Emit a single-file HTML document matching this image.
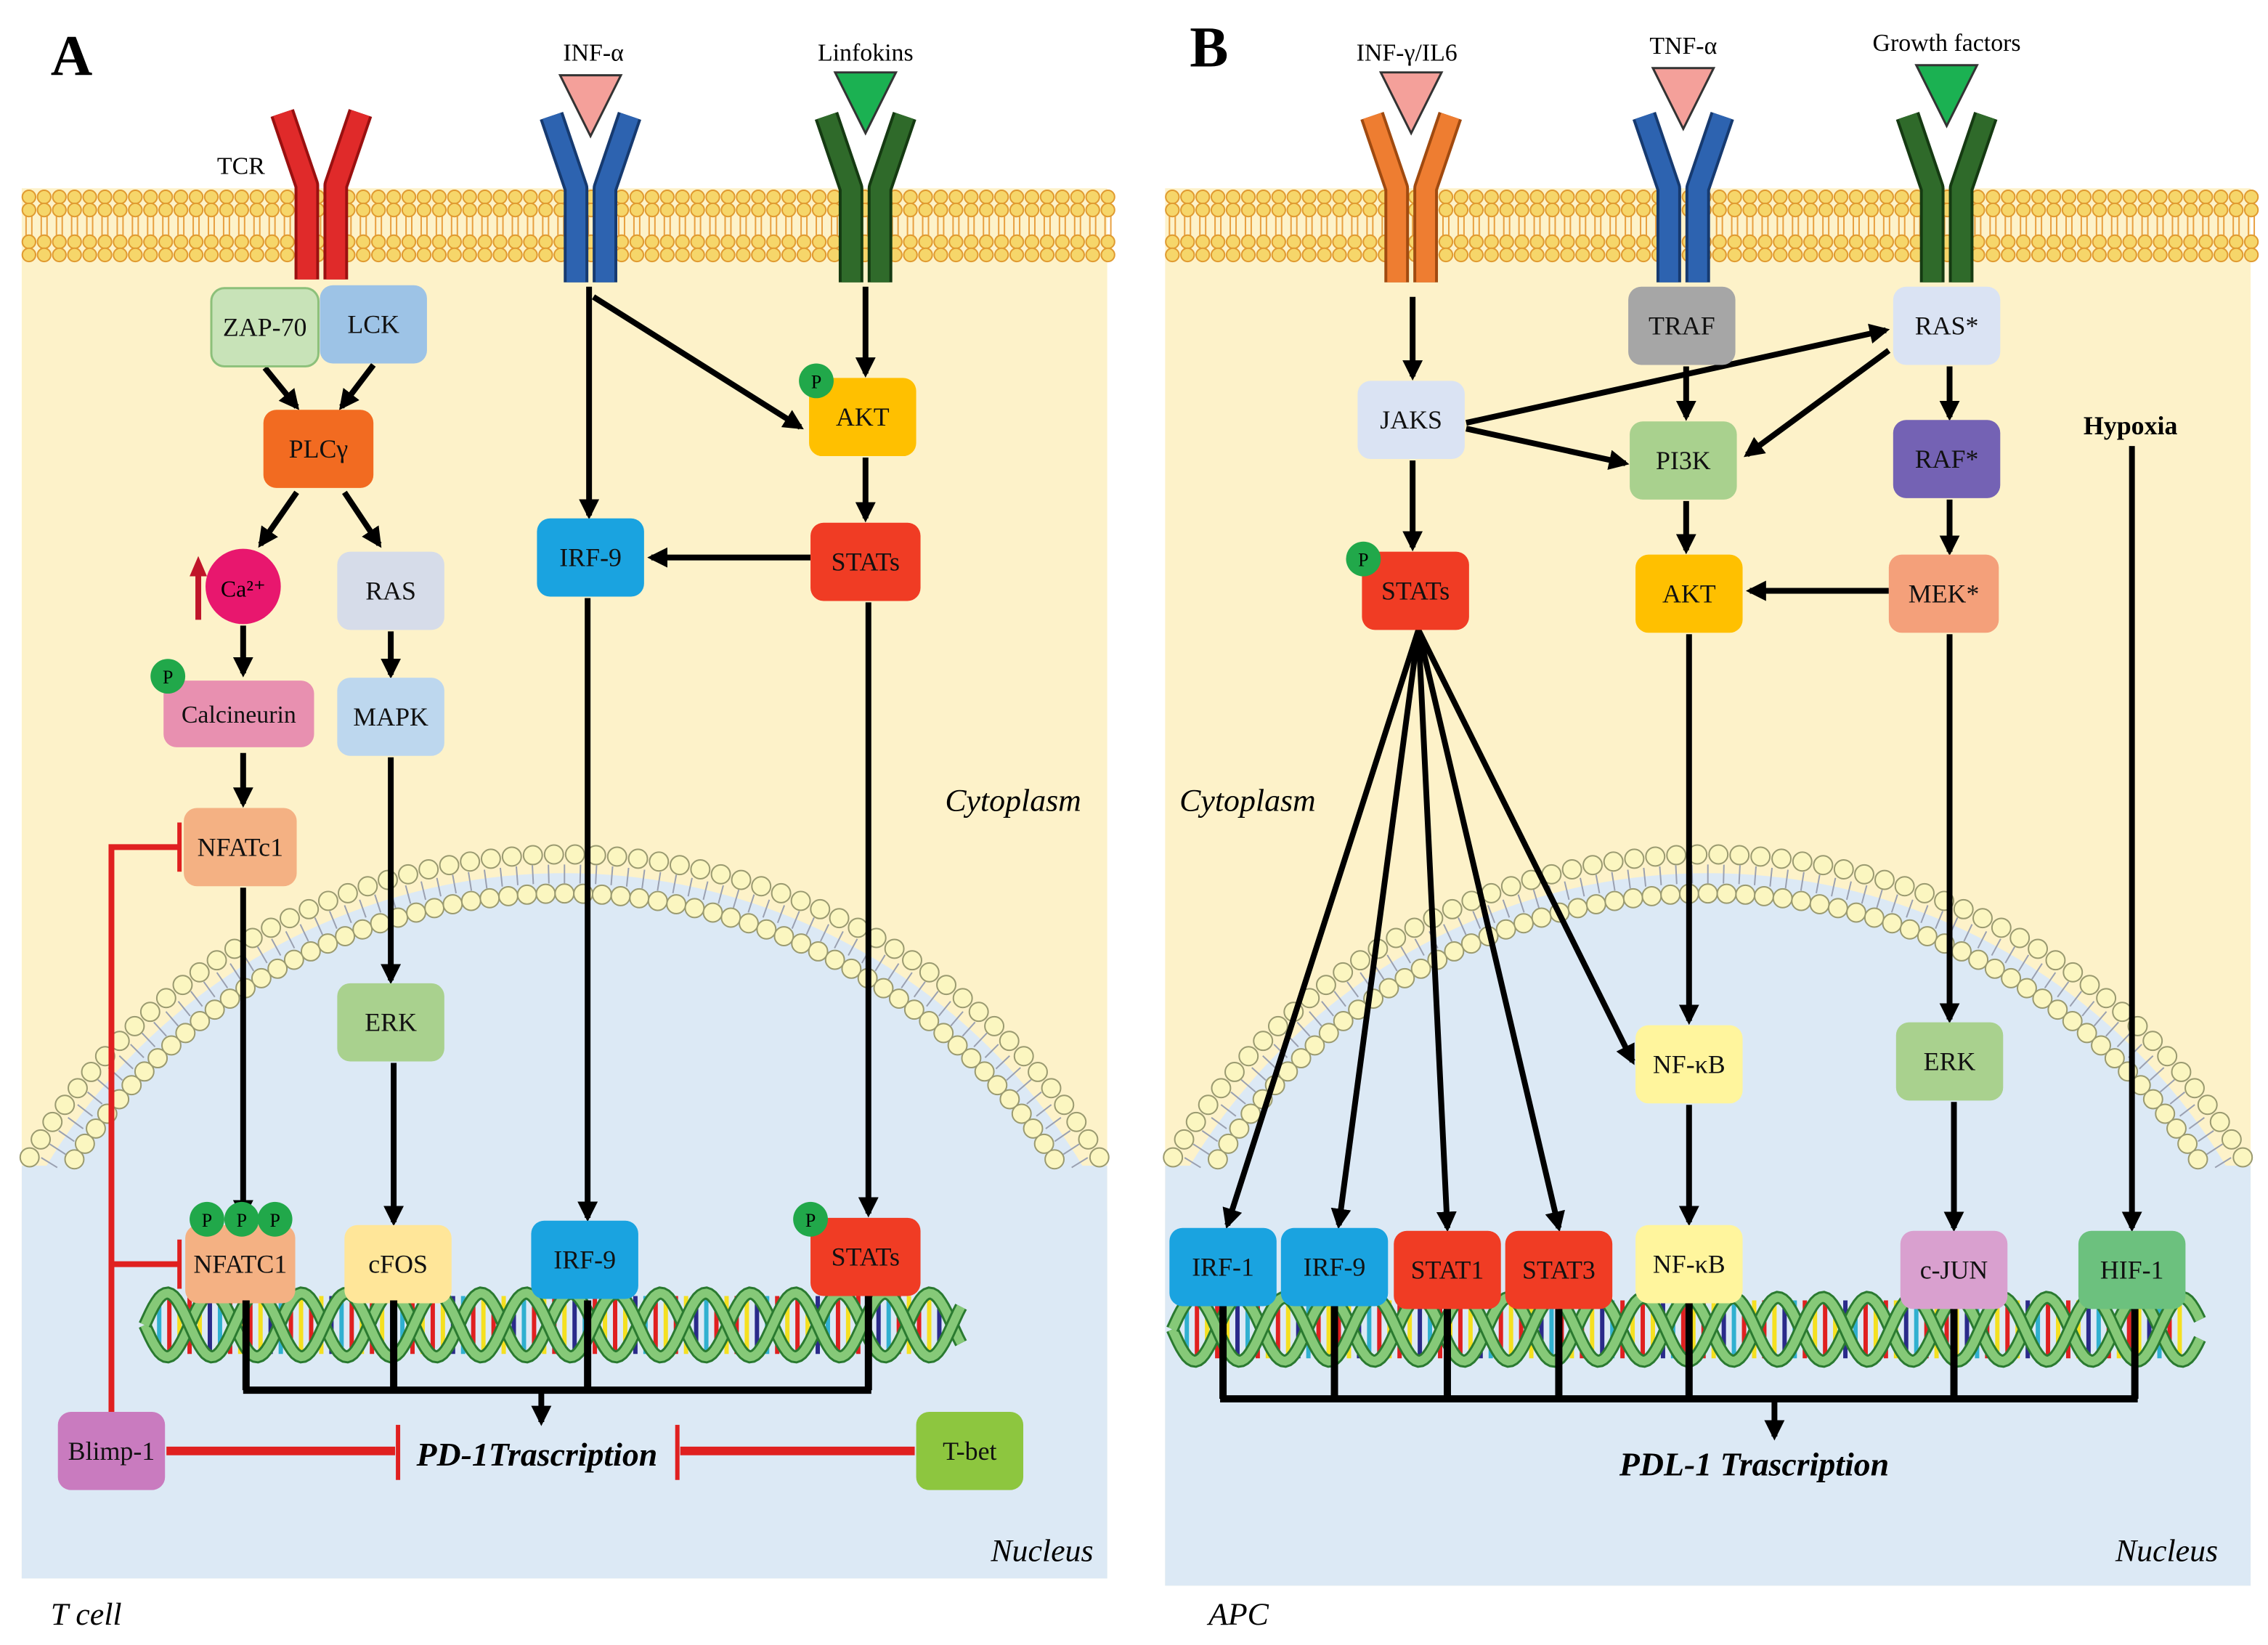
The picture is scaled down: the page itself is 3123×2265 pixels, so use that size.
<!DOCTYPE html>
<html><head><meta charset="utf-8"><style>
html,body{margin:0;padding:0;background:#fff;width:3123px;height:2265px;overflow:hidden;}
svg{display:block;position:absolute;left:0;top:0;}
text{font-family:"Liberation Serif",serif;}
</style></head><body>
<svg id="s" xmlns="http://www.w3.org/2000/svg" width="3123" height="2265" viewBox="0 0 1567 1136" preserveAspectRatio="none">
<defs>
<marker id="ar2" viewBox="0 0 10 10" markerWidth="14" markerHeight="14" refX="8" refY="5" orient="auto" markerUnits="userSpaceOnUse"><path d="M0,0 L10,5 L0,10 Z" fill="#000"/></marker>
<clipPath id="cA"><rect x="15" y="130" width="750" height="960"/></clipPath>
<clipPath id="cB"><rect x="805" y="130" width="750" height="965"/></clipPath>
</defs>
<rect width="1567" height="1136" fill="#fff"/>
<rect x="15" y="130" width="750" height="960" fill="#fdf2c9"/>
<rect x="805" y="130" width="750" height="965" fill="#fdf2c9"/>
<g clip-path="url(#cA)"><circle cx="390" cy="1021" r="418" fill="#dce9f5"/><rect x="15" y="805" width="750" height="290" fill="#dce9f5"/></g>
<g clip-path="url(#cB)"><circle cx="1180" cy="1021" r="418" fill="#dce9f5"/><rect x="805" y="805" width="750" height="290" fill="#dce9f5"/></g>
<g id="mem"></g>
<g id="dna"></g>
<g id="rec"></g>
<g id="lines" stroke="#000" stroke-width="4" fill="none" marker-end="url(#ar2)">
<line x1="183" y1="254" x2="205" y2="281"/>
<line x1="258" y1="252" x2="236" y2="281"/>
<line x1="205" y1="340" x2="180" y2="376"/>
<line x1="238" y1="340" x2="262" y2="376"/>
<line x1="168" y1="432" x2="168" y2="465"/>
<line x1="270" y1="436" x2="270" y2="466"/>
<line x1="168" y1="520" x2="168" y2="555"/>
<line x1="270" y1="523" x2="270" y2="677"/>
<line x1="168" y1="613" x2="168" y2="840"/>
<line x1="272" y1="734" x2="272" y2="844"/>
<line x1="407" y1="198" x2="407" y2="356"/>
<line x1="410" y1="205" x2="553" y2="295"/>
<line x1="598" y1="198" x2="598" y2="258"/>
<line x1="598" y1="316" x2="598" y2="358"/>
<line x1="560" y1="385" x2="450" y2="385"/>
<line x1="406" y1="413" x2="406" y2="841"/>
<line x1="600" y1="416" x2="600" y2="838"/>
<line x1="976" y1="205" x2="976" y2="260"/>
<line x1="976" y1="318" x2="976" y2="378"/>
<line x1="1013" y1="292" x2="1303" y2="228"/>
<line x1="1013" y1="296" x2="1123" y2="320"/>
<line x1="1305" y1="242" x2="1207" y2="314"/>
<line x1="1165" y1="253" x2="1165" y2="288"/>
<line x1="1347" y1="253" x2="1347" y2="288"/>
<line x1="1347" y1="345" x2="1347" y2="381"/>
<line x1="1305" y1="408" x2="1209" y2="408"/>
<line x1="1165" y1="346" x2="1165" y2="380"/>
<line x1="1167" y1="438" x2="1167" y2="705"/>
<line x1="1347" y1="438" x2="1347" y2="704"/>
<line x1="1167" y1="763" x2="1167" y2="844"/>
<line x1="1350" y1="761" x2="1350" y2="848"/>
<line x1="980" y1="435" x2="848" y2="846"/>
<line x1="980" y1="435" x2="925" y2="846"/>
<line x1="980" y1="435" x2="1000" y2="848"/>
<line x1="980" y1="435" x2="1077" y2="848"/>
<line x1="980" y1="435" x2="1128" y2="733"/>
<line x1="1473" y1="308" x2="1473" y2="848"/>
</g>
<g id="nodes"></g>
<g stroke="#000" stroke-width="5" fill="none">
<path d="M170,898 V960 M272,898 V960 M406,898 V960 M600,895 V960 M168,960 H602"/>
<path d="M845,902 V966 M922,902 V966 M1000,904 V966 M1077,904 V966 M1167,900 V966 M1350,904 V966 M1475,904 V966 M843,966 H1477"/>
</g>
<g stroke="#000" stroke-width="4" marker-end="url(#ar2)">
<line x1="374" y1="960" x2="374" y2="982"/>
<line x1="1226" y1="966" x2="1226" y2="992"/>
</g>
<g stroke="#e02020" stroke-width="4" fill="none">
<path d="M77,975 V585 H124 M77,873 H124"/>
<path d="M124,568 V602 M124,856 V890" stroke-width="3"/>
<path d="M115,1002 H273 M632,1002 H470" stroke-width="6"/>
<path d="M275,984 V1022 M468,984 V1022" stroke-width="3"/>
</g>
<path d="M137,428 V396" stroke="#c0152a" stroke-width="4"/>
<path d="M131,398 L137,384 L143,398 Z" fill="#c0152a"/>
<g font-family="Liberation Serif, serif">
<text x="35" y="52" font-size="40" font-weight="bold">A</text>
<text x="822" y="46" font-size="40" font-weight="bold">B</text>
<text x="150" y="120" font-size="17">TCR</text>
<text x="410" y="42" font-size="17" text-anchor="middle">INF-α</text>
<text x="598" y="42" font-size="17" text-anchor="middle">Linfokins</text>
<text x="972" y="42" font-size="17" text-anchor="middle">INF-γ/IL6</text>
<text x="1163" y="37" font-size="17" text-anchor="middle">TNF-α</text>
<text x="1345" y="35" font-size="17" text-anchor="middle">Growth factors</text>
<text x="1472" y="300" font-size="18" font-weight="bold" text-anchor="middle">Hypoxia</text>
<text x="700" y="560" font-size="22" font-style="italic" text-anchor="middle">Cytoplasm</text>
<text x="862" y="560" font-size="22" font-style="italic" text-anchor="middle">Cytoplasm</text>
<text x="720" y="1078" font-size="22" font-style="italic" text-anchor="middle">Nucleus</text>
<text x="1497" y="1078" font-size="22" font-style="italic" text-anchor="middle">Nucleus</text>
<text x="35" y="1122" font-size="22" font-style="italic">T cell</text>
<text x="835" y="1122" font-size="22" font-style="italic">APC</text>
<text x="371" y="1012" font-size="23" font-style="italic" font-weight="bold" text-anchor="middle">PD-1Trascription</text>
<text x="1212" y="1019" font-size="23" font-style="italic" font-weight="bold" text-anchor="middle">PDL-1 Trascription</text>
</g>
</svg>
<script>
var NS="http://www.w3.org/2000/svg",S=document.getElementById('s');
function el(p,t,a,txt){var e=document.createElementNS(NS,t);for(var k in a)e.setAttribute(k,a[k]);if(txt!=null)e.textContent=txt;p.appendChild(e);return e;}
var mem=document.getElementById('mem');
[[15,770],[805,1557]].forEach(function(r){
 for(var x=r[0]+5;x<r[1];x+=10.5){
  el(mem,'path',{d:'M'+(x-2)+',141 V158 M'+(x+2)+',141 V158 M'+(x-2)+',154 V170 M'+(x+2)+',154 V170',stroke:'#e8a040','stroke-width':1,fill:'none'});
 }
 for(var x=r[0]+5;x<r[1];x+=10.5){
  [136,145,167,176].forEach(function(y){el(mem,'circle',{cx:x,cy:y,r:4.6,fill:'#f6d66a',stroke:'#e09a30','stroke-width':1});});
 }
});
[[390,15,765],[1180,805,1555]].forEach(function(c){
 var cx=c[0],cy=1021;
 [[431,8],[404,7]].forEach(function(rr,i){
  var R=rr[0],n=Math.round(Math.PI*R/ (i?13:14.5));
  for(var k=0;k<=n*2;k++){
   var a=Math.PI+k*Math.PI/n;var x=cx+R*Math.cos(a),y=cy+R*Math.sin(a);
   if(y>805||x<c[1]+4||x>c[2]-4)continue;
   el(mem,'circle',{cx:x,cy:y,r:6.5,fill:'#fbf6c0',stroke:'#9a9a70','stroke-width':1});
  }
 });
 for(var k=0;k<=120;k++){var a=Math.PI+k*Math.PI/120;var x1=cx+424*Math.cos(a),y1=cy+424*Math.sin(a),x2=cx+411*Math.cos(a),y2=cy+411*Math.sin(a);
  if(y1>805||x1<c[1]+4||x1>c[2]-4)continue;el(mem,'line',{x1:x1,y1:y1,x2:x2,y2:y2,stroke:'#9aa0b0','stroke-width':1});}
});
var dna=document.getElementById('dna');
function helix(x0,x1,yc){
 var cols=['#e02020','#f5e020','#2a2a8a','#30b0d0','#e02020','#f5e020'];
 for(var x=x0+10;x<x1-10;x+=7){el(dna,'line',{x1:x,y1:yc-20,x2:x,y2:yc+20,stroke:cols[Math.floor(x/7)%6],'stroke-width':3});}
 var P=62;
 [0,P/2].forEach(function(ph,j){
  var d='';for(var x=x0;x<=x1;x+=2){var y=yc+22*Math.sin((x-x0+ph)/P*2*Math.PI);d+=(x==x0?'M':'L')+x+','+y.toFixed(1);}
  el(dna,'path',{d:d,stroke:'#2a7a30','stroke-width':9,fill:'none'});
  el(dna,'path',{d:d,stroke:'#86c978','stroke-width':6,fill:'none'});
 });
}
helix(100,665,915);helix(810,1520,918);
var rec=document.getElementById('rec');
function receptor(x,fill,dark,top){
 [-1,1].forEach(function(s){
  var d='M'+(x+s*27)+','+(top)+' L'+(x+s*10)+','+(top+50)+' L'+(x+s*10)+','+(top+115);
  el(rec,'path',{d:d,stroke:dark,'stroke-width':17,fill:'none','stroke-linejoin':'round'});
  el(rec,'path',{d:d,stroke:fill,'stroke-width':13,fill:'none','stroke-linejoin':'round'});
 });
}
function tri(x,y,fill){el(rec,'path',{d:'M'+(x-21)+','+y+' L'+(x+21)+','+y+' L'+x+','+(y+42)+' Z',fill:fill,stroke:'#333','stroke-width':1.5});}
receptor(222,'#e02a2a','#9a1010',78);
receptor(408,'#2d63b0','#163a70',80);tri(408,52,'#f4a09a');
receptor(598,'#2f6a2a','#153a12',80);tri(598,50,'#1bb152');
receptor(975,'#ee7d31','#a04a10',80);tri(975,50,'#f4a09a');
receptor(1163,'#2d63b0','#163a70',80);tri(1163,47,'#f4a09a');
receptor(1345,'#2f6a2a','#153a12',80);tri(1345,45,'#1bb152');
var nodes=document.getElementById('nodes');
function node(cx,cy,w,h,fill,label,fs,stroke){
 el(nodes,'rect',{x:cx-w/2,y:cy-h/2,width:w,height:h,rx:9,fill:fill,stroke:stroke||'none','stroke-width':1.5});
 el(nodes,'text',{x:cx,y:cy+6,'font-size':fs||18,'text-anchor':'middle',fill:'#111'},label);
}
function P(x,y){el(nodes,'circle',{cx:x,cy:y,r:12,fill:'#21a84a'});el(nodes,'text',{x:x,y:y+5,'font-size':13,'text-anchor':'middle'},'P');}
node(183,226,74,54,'#c8e3b8','ZAP-70',18,'#8cc07a');
node(258,224,74,54,'#9dc3e6','LCK');
node(220,310,76,54,'#f26b21','PLCγ');
el(nodes,'circle',{cx:168,cy:405,r:26,fill:'#e8176e'});el(nodes,'text',{x:168,y:412,'font-size':16,'text-anchor':'middle'},'Ca²⁺');
node(270,408,74,54,'#d6dce9','RAS');
node(165,493,104,46,'#e890b0','Calcineurin',17);
node(270,495,74,54,'#bdd7ee','MAPK');
node(166,585,78,54,'#f4b183','NFATc1');
node(270,706,74,54,'#a9d18e','ERK');
node(166,873,76,54,'#f4b183','NFATC1');
node(275,873,74,54,'#ffe699','cFOS');
node(408,385,74,54,'#1aa3e0','IRF-9');
node(404,870,74,54,'#1aa3e0','IRF-9');
node(596,288,74,54,'#ffc000','AKT');
node(598,388,76,54,'#f03c24','STATs');
node(598,868,76,54,'#f03c24','STATs');
node(77,1002,74,54,'#c97bbf','Blimp-1');
node(670,1002,74,54,'#8dc63f','T-bet');
P(564,263);P(116,467);P(143,842);P(167,842);P(190,842);P(560,842);
node(975,290,74,54,'#dae3f3','JAKS');
node(1162,225,74,54,'#a6a6a6','TRAF');
node(1345,225,74,54,'#dae3f3','RAS*');
node(1163,318,74,54,'#a9d18e','PI3K');
node(1345,317,74,54,'#7462b4','RAF*');
node(978,408,74,54,'#f03c24','STATs');
node(1167,410,74,54,'#ffc000','AKT');
node(1343,410,76,54,'#f4a07a','MEK*');
node(1167,735,74,54,'#fff59d','NF-κB');
node(1347,733,74,54,'#a9d18e','ERK');
node(1167,873,74,54,'#fff59d','NF-κB');
node(1350,877,74,54,'#d9a0cf','c-JUN');
node(1473,877,74,54,'#6cc17e','HIF-1');
node(845,875,74,54,'#1aa3e0','IRF-1');
node(922,875,74,54,'#1aa3e0','IRF-9');
node(1000,877,74,54,'#f03c24','STAT1');
node(1077,877,74,54,'#f03c24','STAT3');
P(942,386);
</script>
</body></html>
